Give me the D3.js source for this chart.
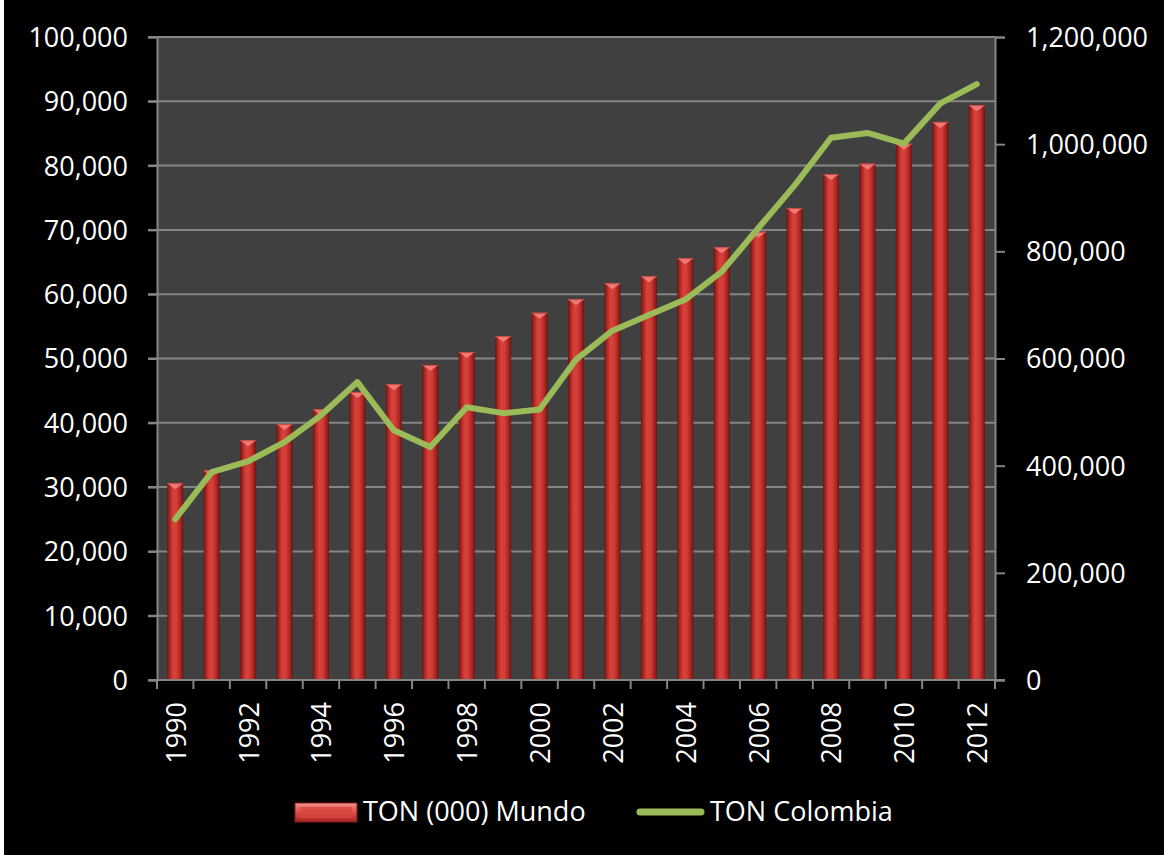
<!DOCTYPE html>
<html>
<head>
<meta charset="utf-8">
<script src="https://cdn.jsdelivr.net/npm/d3@7"></script>
<style>
  html, body { margin: 0; padding: 0; background: #ffffff; }
  svg { display: block; }
  text { font-family: "Open Sans", "Noto Sans", sans-serif; fill: #ffffff; }
</style>
</head>
<body>
<svg id="chart" width="1164" height="855"></svg>
<script>
const years = [1990,1991,1992,1993,1994,1995,1996,1997,1998,1999,2000,2001,2002,2003,2004,2005,2006,2007,2008,2009,2010,2011,2012];
const mundo = [30600,32600,37300,39800,42100,44800,46000,49000,51000,53500,57100,59200,61700,62800,65600,67300,69700,73400,78700,80300,83400,86800,89400];
const colombia = [300000,388000,408000,444000,494000,556000,466000,435000,509000,498000,505000,598000,652000,681000,710000,762000,843000,923000,1012000,1021000,1001000,1076000,1112000];
const leftTicks = [0,10000,20000,30000,40000,50000,60000,70000,80000,90000,100000];
const rightTicks = [0,200000,400000,600000,800000,1000000,1200000];
const yearLabels = [1990,1992,1994,1996,1998,2000,2002,2004,2006,2008,2010,2012];
const seriesNames = ["TON (000) Mundo", "TON Colombia"];

const svg = d3.select("#chart");
const W = 1164, H = 855;
const m = {left: 157, right: 995, top: 37, bottom: 680};

svg.append("rect").attr("x", 4).attr("y", 0).attr("width", W - 4).attr("height", H).attr("fill", "#000000");

const defs = svg.append("defs");
const bg = defs.append("linearGradient").attr("id", "barGrad").attr("x1", "0").attr("x2", "1").attr("y1", "0").attr("y2", "0");
[["0%", "#6a1411"], ["14%", "#a8241f"], ["38%", "#d8423c"], ["60%", "#d23c36"], ["86%", "#a3231e"], ["100%", "#651310"]]
  .forEach(([o, c]) => bg.append("stop").attr("offset", o).attr("stop-color", c));
const lg = defs.append("linearGradient").attr("id", "legGrad").attr("x1", "0").attr("x2", "0").attr("y1", "0").attr("y2", "1");
[["0%", "#f49592"], ["30%", "#e5635e"], ["70%", "#cf3c37"], ["100%", "#9c231f"]]
  .forEach(([o, c]) => lg.append("stop").attr("offset", o).attr("stop-color", c));

const x = d3.scaleBand().domain(years).range([m.left, m.right]).paddingInner(0).paddingOuter(0);
const yL = d3.scaleLinear().domain([0, 100000]).range([m.bottom, m.top]);
const yR = d3.scaleLinear().domain([0, 1200000]).range([m.bottom, m.top]);
const fmt = d3.format(",");

// plot background
svg.append("rect").attr("x", m.left).attr("y", m.top).attr("width", m.right - m.left).attr("height", m.bottom - m.top).attr("fill", "#404040");

// gridlines
svg.append("g").selectAll("line").data(leftTicks.filter(d => d > 0)).join("line")
  .attr("x1", m.left - 9).attr("x2", m.right).attr("y1", d => yL(d)).attr("y2", d => yL(d))
  .attr("stroke", "#858585").attr("stroke-width", 2);

// left axis
const gl = svg.append("g").attr("transform", `translate(${m.left},0)`)
  .call(d3.axisLeft(yL).tickValues(leftTicks).tickFormat(fmt).tickSize(9).tickPadding(20));
gl.select(".domain").attr("stroke", "#858585").attr("stroke-width", 2);
gl.selectAll(".tick line").attr("stroke", "#858585").attr("stroke-width", 2);
gl.selectAll(".tick text").attr("font-size", 27).attr("fill", "#fff").style("font-family", '"Open Sans", sans-serif').attr("dy", "0.35em");

// right axis
const gr = svg.append("g").attr("transform", `translate(${m.right},0)`)
  .call(d3.axisRight(yR).tickValues(rightTicks).tickFormat(fmt).tickSize(10).tickPadding(21));
gr.select(".domain").attr("stroke", "#858585").attr("stroke-width", 2);
gr.selectAll(".tick line").attr("stroke", "#858585").attr("stroke-width", 2);
gr.selectAll(".tick text").attr("font-size", 27).attr("fill", "#fff").style("font-family", '"Open Sans", sans-serif').attr("dy", "0.35em");

// bars
const bw = 16;
const bars = svg.append("g");
years.forEach((yr, i) => {
  const cx = x(yr) + x.bandwidth() / 2;
  const top = yL(mundo[i]);
  bars.append("rect").attr("x", cx - bw / 2).attr("y", top).attr("width", bw).attr("height", m.bottom - top)
    .attr("fill", "url(#barGrad)");
  bars.append("path")
    .attr("d", `M${cx - bw / 2},${top} L${cx + bw / 2},${top} L${cx},${top + 6} Z`)
    .attr("fill", "#f07a76");
  bars.append("line").attr("x1", cx - bw / 2).attr("x2", cx + bw / 2).attr("y1", top + 0.5).attr("y2", top + 0.5)
    .attr("stroke", "#c84a45").attr("stroke-width", 1);
});

// x axis
const gx = svg.append("g").attr("transform", `translate(0,${m.bottom})`);
gx.append("line").attr("x1", m.left - 9).attr("x2", m.right + 10).attr("y1", 0).attr("y2", 0).attr("stroke", "#858585").attr("stroke-width", 2);
const bounds = years.map(d => x(d)).concat([m.right]);
gx.selectAll("line.tk").data(bounds).join("line").attr("class", "tk")
  .attr("x1", d => d).attr("x2", d => d).attr("y1", 0).attr("y2", 9).attr("stroke", "#858585").attr("stroke-width", 2);
gx.selectAll("text").data(yearLabels).join("text")
  .attr("transform", d => `translate(${x(d) + x.bandwidth() / 2 + 1},22) rotate(-90)`)
  .attr("text-anchor", "end").attr("dy", "0.35em").attr("font-size", 27).text(d => d);

// line
const line = d3.line().x((d, i) => x(years[i]) + x.bandwidth() / 2).y(d => yR(d));
svg.append("path").datum(colombia).attr("d", line).attr("fill", "none")
  .attr("stroke", "#9bbb59").attr("stroke-width", 6).attr("stroke-linejoin", "round").attr("stroke-linecap", "round");

// legend
const leg = svg.append("g");
leg.append("rect").attr("x", 295).attr("y", 803).attr("width", 62).attr("height", 19).attr("fill", "url(#legGrad)")
  .attr("stroke", "#8a1d1a").attr("stroke-width", 1);
leg.append("path").attr("d", "M300,807 L352,807 L352,818 L300,818 Z").attr("fill", "#d9443f").attr("opacity", 0.7);
leg.append("text").attr("x", 363).attr("y", 821).attr("font-size", 27).text(seriesNames[0]);
leg.append("line").attr("x1", 640).attr("x2", 701).attr("y1", 812).attr("y2", 812)
  .attr("stroke", "#9bbb59").attr("stroke-width", 7).attr("stroke-linecap", "round");
leg.append("text").attr("x", 710).attr("y", 821).attr("font-size", 27).text(seriesNames[1]);
</script>
</body>
</html>
